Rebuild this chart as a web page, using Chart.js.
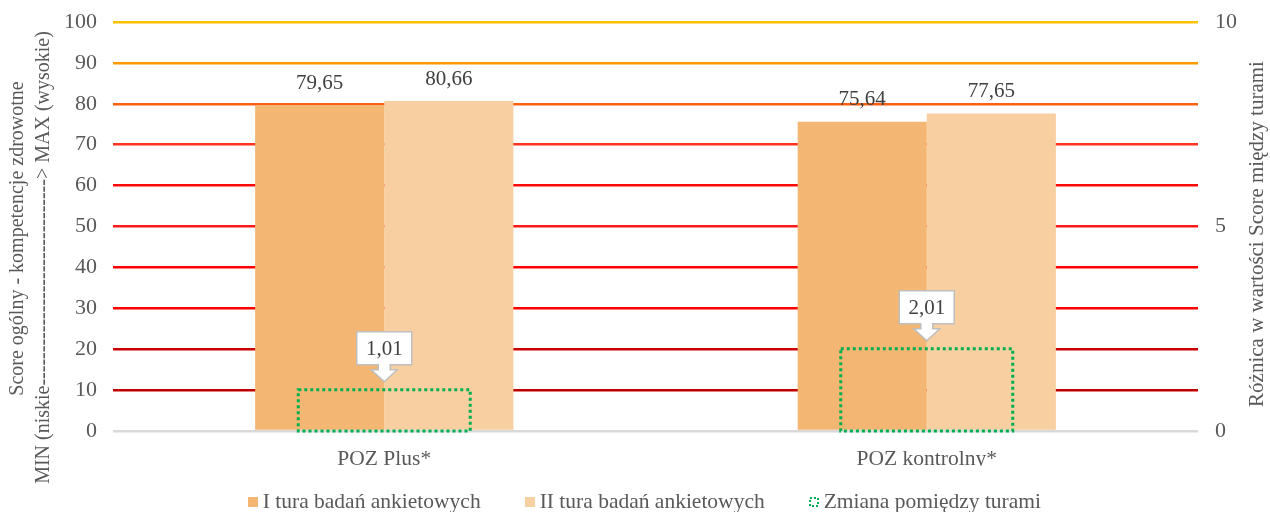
<!DOCTYPE html>
<html lang="pl">
<head>
<meta charset="utf-8">
<title>Score ogólny - kompetencje zdrowotne</title>
<script src="https://cdn.jsdelivr.net/npm/chart.js@4/dist/chart.umd.min.js"></script>
<style>
    html, body { margin: 0; padding: 0; background: #ffffff; }
</style>
</head>
<body>
<canvas id="chartScore" width="1270" height="512"></canvas>
<script>
// --- dane ---
const kategorie = ["POZ Plus*", "POZ kontrolny*"];
const turaI = [79.65, 75.64];
const turaII = [80.66, 77.65];
const zmiana = [1.01, 2.01];
const ticksLewa = [0, 10, 20, 30, 40, 50, 60, 70, 80, 90, 100];
const ticksPrawa = [0, 5, 10];
const nazwySerii = ["I tura badań ankietowych", "II tura badań ankietowych", "Zmiana pomiędzy turami"];
const tytulLewy = ["Score ogólny - kompetencje zdrowotne", "MIN (niskie-------------------------------> MAX (wysokie)"];
const tytulPrawy = "Różnica w wartości Score między turami";

// --- style ---
const FONT = '"Liberation Serif", "Times New Roman", serif';
const SZARY = "#595959";
const CIEMNY = "#404040";
const ZIELONY = "#00B050";
// kolory linii siatki od 0 do 100
const kolorySiatki = ["#D9D9D9", "#C00000", "#CC0000", "#FF0000", "#FF0000", "#FF1A1A",
    "#FF0A0A", "#FF3320", "#FF6010", "#FF9900", "#FFC000"];

Chart.defaults.font.family = FONT;
Chart.defaults.font.size = 22;
Chart.defaults.color = SZARY;

const fmt = v => v.toFixed(2).replace(".", ",");

// ikonki legendy: kwadrat przy prawej krawedzi, wystaje poza pole ramki -> mniejszy odstep od tekstu
function ikona(kolor, kropki) {
    const c = document.createElement("canvas");
    c.width = 35;
    c.height = 10;
    const g = c.getContext("2d");
    if (kropki) {
        g.strokeStyle = kolor;
        g.lineWidth = 2;
        g.setLineDash([2, 2]);
        g.strokeRect(26, 1, 8, 8);
    } else {
        g.fillStyle = kolor;
        g.fillRect(25, 0, 10, 10);
    }
    return c;
}
const ikony = [ikona("#F4B673", false), ikona("#F8CFA0", false), ikona(ZIELONY, true)];

const rysunki = {
    id: "rysunki",
    afterDatasetsDraw(chart) {
        const ctx = chart.ctx;
        ctx.save();
        ctx.font = "21px " + FONT;
        ctx.textAlign = "center";
        ctx.textBaseline = "middle";

        // etykiety wartosci nad slupkami
        ctx.fillStyle = CIEMNY;
        [0, 1].forEach(di => {
            chart.getDatasetMeta(di).data.forEach((bar, i) => {
                ctx.fillText(fmt(chart.data.datasets[di].data[i]), bar.x, bar.y - 22);
            });
        });

        // zmiana - kropkowany prostokat
        const meta = chart.getDatasetMeta(2);
        ctx.strokeStyle = ZIELONY;
        ctx.lineWidth = 3;
        ctx.setLineDash([3, 3]);
        meta.data.forEach(bar => {
            ctx.strokeRect(bar.x - bar.width / 2, bar.y, bar.width, bar.base - bar.y);
        });
        ctx.setLineDash([]);

        // dymki z wartoscia zmiany
        meta.data.forEach((bar, i) => {
            const x = bar.x;
            const tip = bar.y - 8;
            const w = 55, h = 33, stemW = 6, stemH = 5, headW = 13, headH = 12;
            const dol = tip - headH - stemH;
            const gora = dol - h;
            ctx.beginPath();
            ctx.moveTo(x - w / 2, gora);
            ctx.lineTo(x + w / 2, gora);
            ctx.lineTo(x + w / 2, dol);
            ctx.lineTo(x + stemW, dol);
            ctx.lineTo(x + stemW, dol + stemH);
            ctx.lineTo(x + headW, dol + stemH);
            ctx.lineTo(x, tip);
            ctx.lineTo(x - headW, dol + stemH);
            ctx.lineTo(x - stemW, dol + stemH);
            ctx.lineTo(x - stemW, dol);
            ctx.lineTo(x - w / 2, dol);
            ctx.closePath();
            ctx.fillStyle = "#ffffff";
            ctx.fill();
            ctx.strokeStyle = "#BFBFBF";
            ctx.lineWidth = 1.5;
            ctx.stroke();
            ctx.fillStyle = CIEMNY;
            ctx.fillText(fmt(zmiana[i]), x, (gora + dol) / 2 + 1);
        });
        ctx.restore();
    },
    afterDraw(chart) {
        // tytuly osi, czytane od dolu do gory
        const {ctx, chartArea} = chart;
        const srodek = (chartArea.top + chartArea.bottom) / 2;
        const napis = (tekst, x, y, rozmiar) => {
            ctx.save();
            ctx.translate(x, y);
            ctx.rotate(-Math.PI / 2);
            ctx.font = rozmiar + "px " + FONT;
            ctx.fillStyle = SZARY;
            ctx.textAlign = "center";
            ctx.textBaseline = "middle";
            ctx.fillText(tekst, 0, 0);
            ctx.restore();
        };
        napis(tytulLewy[0], 18, srodek + 12, 20);
        napis(tytulLewy[1], 44, srodek + 31, 20);
        napis(tytulPrawy, chartArea.right + 59, srodek + 7.5, 21);
    }
};

document.addEventListener("DOMContentLoaded", () => {
    const el = document.getElementById("chartScore");
    new Chart(el, {
        type: "bar",
        data: {
            labels: kategorie,
            datasets: [
                {
                    label: nazwySerii[0],
                    data: turaI,
                    backgroundColor: "#F4B673",
                    categoryPercentage: 0.476,
                    barPercentage: 1,
                    yAxisID: "y"
                },
                {
                    label: nazwySerii[1],
                    data: turaII,
                    backgroundColor: "#F8CFA0",
                    categoryPercentage: 0.476,
                    barPercentage: 1,
                    yAxisID: "y"
                },
                {
                    label: nazwySerii[2],
                    data: zmiana,
                    backgroundColor: "rgba(0,0,0,0)",
                    borderWidth: 0,
                    grouped: false,
                    categoryPercentage: 1,
                    barPercentage: 0.317,
                    yAxisID: "y2"
                }
            ]
        },
        options: {
            responsive: false,
            devicePixelRatio: 1,
            animation: false,
            layout: { padding: { top: 22, left: 0, right: 0, bottom: -10.75 } },
            plugins: {
                legend: {
                    position: "bottom",
                    labels: {
                        usePointStyle: true,
                        pointStyleWidth: 23,
                        padding: 25.25,
                        color: SZARY,
                        font: { size: 21.5 },
                        generateLabels(chart) {
                            const items = Chart.defaults.plugins.legend.labels.generateLabels(chart);
                            items.forEach(it => { it.pointStyle = ikony[it.datasetIndex]; });
                            return items;
                        }
                    }
                },
                tooltip: { enabled: false }
            },
            scales: {
                x: {
                    grid: { display: false },
                    border: { display: false },
                    ticks: { color: SZARY, padding: 7, font: { size: 21.5 } },
                    afterFit: s => { s.height = 35; }
                },
                y: {
                    position: "left",
                    min: ticksLewa[0],
                    max: ticksLewa[ticksLewa.length - 1],
                    ticks: { stepSize: ticksLewa[1] - ticksLewa[0], color: SZARY, padding: 16, font: { size: 22 } },
                    grid: {
                        color: c => kolorySiatki[c.index] || "#D9D9D9",
                        lineWidth: 2.5,
                        drawTicks: false
                    },
                    border: { display: false },
                    afterFit: s => { s.width = 113; s.paddingTop = 0; }
                },
                y2: {
                    position: "right",
                    min: ticksPrawa[0],
                    max: ticksPrawa[ticksPrawa.length - 1],
                    ticks: { stepSize: ticksPrawa[1] - ticksPrawa[0], color: SZARY, padding: 17, font: { size: 22 } },
                    grid: { display: false, drawTicks: false },
                    border: { display: false },
                    afterFit: s => { s.width = 72; s.paddingTop = 0; }
                }
            }
        },
        plugins: [rysunki]
    });
});
</script>
</body>
</html>
